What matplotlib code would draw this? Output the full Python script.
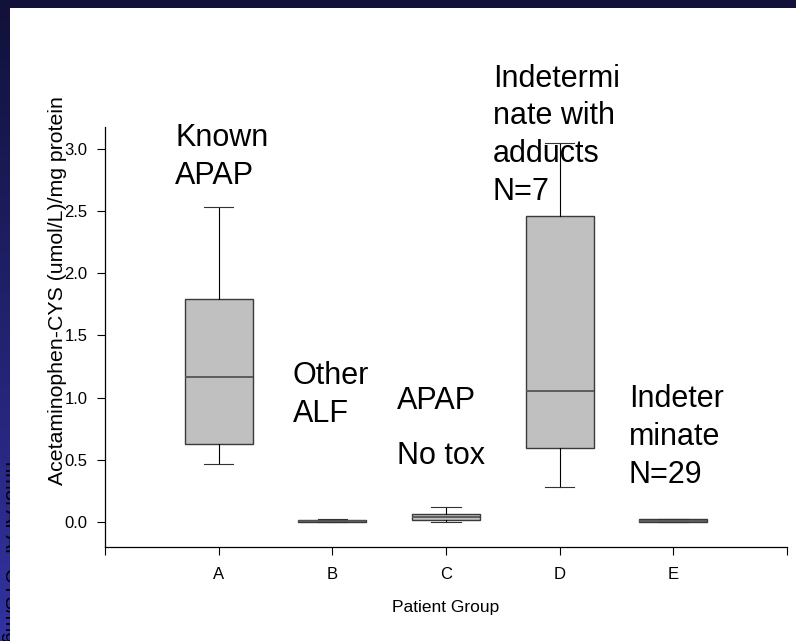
import numpy as np
import matplotlib
matplotlib.use("Agg")
import matplotlib.pyplot as plt
from matplotlib.colors import LinearSegmentedColormap
from matplotlib.patches import Rectangle

plt.rcParams['font.family'] = ['Liberation Sans', 'DejaVu Sans']

W, H = 796, 641

# box summaries
groups       = ['A', 'B', 'C', 'D', 'E']
whisker_low  = [0.47, 0.0, 0.0, 0.28, 0.0]
q1           = [0.63, 0.0, 0.016, 0.595, 0.0]
medians      = [1.165, 0.006, 0.04, 1.05, 0.01]
q3           = [1.79, 0.014, 0.064, 2.46, 0.022]
whisker_high = [2.53, 0.022, 0.12, 3.05, 0.026]

# group annotations: text, left x (data), top y (data)
notes = [
    ("Known\nAPAP", 0.616, 3.205),
    ("Other\nALF", 1.653, 1.295),
    ("APAP", 2.568, 1.095),
    ("No tox", 2.568, 0.655),
    ("Indetermi\nnate with\nadducts\nN=7", 3.412, 3.685),
    ("Indeter\nminate\nN=29", 4.609, 1.11),
]

fig = plt.figure(figsize=(W / 100, H / 100), dpi=100)

# slide background: navy frame with vertical gradient strip on the left
bg = fig.add_axes([0, 0, 1, 1])
bg.set_xlim(0, W)
bg.set_ylim(0, H)
bg.axis('off')
cmap = LinearSegmentedColormap.from_list('slide', ['#11113a', '#3232a2'])
grad = np.linspace(0, 1, 256).reshape(-1, 1)
bg.imshow(grad, cmap=cmap, aspect='auto', extent=[0, W, 0, H], origin='upper')
bg.text(0.5, H - 461, "nmol APAP-CYS/mg protein", rotation=270, fontsize=14.5,
        ha='left', va='top', color='black', zorder=3)
bg.add_patch(Rectangle((10, 0), W - 10, H - 8, facecolor='white',
                       edgecolor='none', zorder=4))

ax = fig.add_axes([105 / W, (H - 547) / H, 682 / W, 420 / H])
ax.patch.set_alpha(0)

stats = []
for i in range(len(groups)):
    stats.append(dict(med=medians[i], q1=q1[i], q3=q3[i],
                      whislo=whisker_low[i], whishi=whisker_high[i], fliers=[]))

ax.bxp(stats, positions=range(1, len(groups) + 1), widths=0.6, capwidths=0.26,
       patch_artist=True, showfliers=False, manage_ticks=False,
       boxprops=dict(facecolor='#c0c0c0', edgecolor='#3a3a3a', linewidth=1.0),
       medianprops=dict(color='#555555', linewidth=1.3),
       whiskerprops=dict(color='black', linewidth=0.8),
       capprops=dict(color='#333333', linewidth=0.8))

ax.set_xlim(0, len(groups) + 1)
ax.set_ylim(-0.2, 3.175)
ax.set_xticks(range(len(groups) + 2))
ax.set_xticklabels([''] + groups + [''])
ax.set_yticks(np.arange(0, 3.01, 0.5))
ax.set_yticklabels([f"{v:.1f}" for v in np.arange(0, 3.01, 0.5)])
ax.tick_params(axis='both', direction='out', length=5.5, width=0.8, labelsize=12)
ax.tick_params(axis='x', pad=9)
ax.tick_params(axis='y', pad=7)

for side in ['top', 'right']:
    ax.spines[side].set_visible(False)
for side in ['left', 'bottom']:
    ax.spines[side].set_linewidth(0.9)

ax.set_xlabel('Patient Group', fontsize=12.5, labelpad=13)
ax.set_ylabel('Acetaminophen-CYS (umol/L)/mg protein', fontsize=15.3)
ax.yaxis.set_label_coords(-0.056, 0.61)

for txt, x, y in notes:
    ax.text(x, y, txt, fontsize=22, ha='left', va='top', linespacing=1.34,
            color='black')

fig.savefig('out.png', dpi=100)
